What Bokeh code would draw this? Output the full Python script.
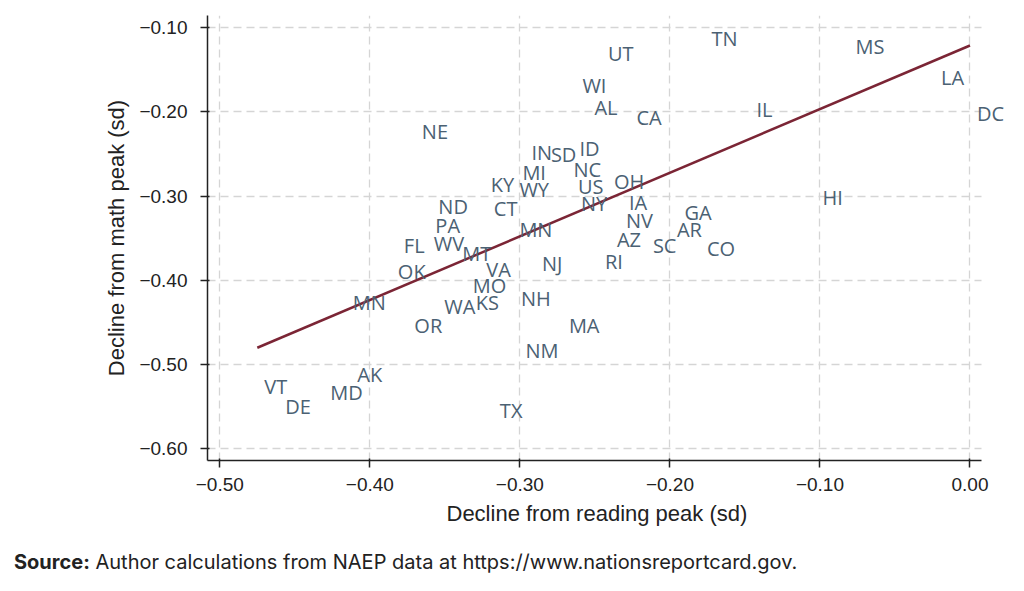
from bokeh.plotting import figure
from bokeh.models import ColumnDataSource, LabelSet, FixedTicker, Range1d, Div, Title
from bokeh.layouts import column
from bokeh.core.properties import value
from bokeh.embed import file_html
from bokeh.resources import INLINE

# ---- data ----
states = ["TN", "UT", "MS", "LA", "DC", "WI", "AL", "CA", "IL", "NE",
          "IN", "SD", "ID", "MI", "NC", "KY", "WY", "US", "NY", "OH",
          "ND", "CT", "PA", "MN", "IA", "NV", "GA", "AR", "AZ", "SC",
          "CO", "RI", "HI", "FL", "WV", "MT", "VA", "NJ", "OK", "MO",
          "NH", "MN", "WA", "KS", "OR", "MA", "NM", "AK", "VT", "MD",
          "DE", "TX"]
reading_decline = [-0.177, -0.246, -0.081, -0.024, 0.000, -0.263, -0.255, -0.227, -0.147, -0.370,
                   -0.297, -0.284, -0.265, -0.303, -0.269, -0.324, -0.305, -0.266, -0.264, -0.242,
                   -0.359, -0.322, -0.361, -0.305, -0.232, -0.234, -0.195, -0.200, -0.240, -0.216,
                   -0.180, -0.248, -0.103, -0.382, -0.362, -0.343, -0.327, -0.290, -0.386, -0.336,
                   -0.304, -0.416, -0.355, -0.334, -0.375, -0.272, -0.301, -0.413, -0.475, -0.431,
                   -0.461, -0.318]
math_decline = [-0.113, -0.131, -0.122, -0.159, -0.202, -0.169, -0.195, -0.207, -0.197, -0.223,
                -0.248, -0.251, -0.243, -0.272, -0.268, -0.286, -0.292, -0.289, -0.309, -0.282,
                -0.312, -0.315, -0.335, -0.340, -0.307, -0.329, -0.319, -0.339, -0.352, -0.359,
                -0.362, -0.378, -0.301, -0.359, -0.356, -0.368, -0.387, -0.380, -0.390, -0.406,
                -0.422, -0.426, -0.431, -0.426, -0.453, -0.453, -0.483, -0.512, -0.526, -0.533,
                -0.550, -0.555]
fit_x = [-0.475, 0.000]
fit_y = [-0.480, -0.121]

x_ticks = [-0.5, -0.4, -0.3, -0.2, -0.1, 0.0]
x_tick_labels = ["\u22120.50", "\u22120.40", "\u22120.30", "\u22120.20", "\u22120.10", "0.00"]
y_ticks = [-0.6, -0.5, -0.4, -0.3, -0.2, -0.1]
y_tick_labels = ["\u22120.60", "\u22120.50", "\u22120.40", "\u22120.30", "\u22120.20", "\u22120.10"]

x_title = "Decline from reading peak (sd)"
y_title = "Decline from math peak (sd)"
source_bold = "Source:"
source_text = "Author calculations from NAEP data at https://www.nationsreportcard.gov."

# ---- styles ----
LABEL_COLOR = "#4b6173"
FIT_COLOR = "#7b2535"
AXIS_FONT = "Liberation Sans"
TEXT_COLOR = "#222222"
X_AXIS_BOUNDS = (-0.5082, 0.008)

p = figure(width=1016, height=550, output_backend="svg", toolbar_location=None,
           x_range=Range1d(-0.5082, 0.031), y_range=Range1d(-0.6139, -0.0854),
           min_border_left=207, min_border_right=0, min_border_top=15, min_border_bottom=90)
p.outline_line_color = None
p.background_fill_color = "white"
p.border_fill_color = "white"

p.line(fit_x, fit_y, line_color=FIT_COLOR, line_width=2.5)

src = ColumnDataSource(dict(x=reading_decline, y=math_decline, s=states))
labels = LabelSet(x="x", y="y", text="s", source=src, x_offset=7,
                  text_align="left", text_baseline="middle",
                  text_font=value("Open Sans"), text_font_size=value("20px"),
                  text_color=LABEL_COLOR)
p.add_layout(labels)

for ax, ticks, tl in ((p.xaxis[0], x_ticks, x_tick_labels), (p.yaxis[0], y_ticks, y_tick_labels)):
    ax.ticker = FixedTicker(ticks=ticks, minor_ticks=[])
    ax.major_label_overrides = {t: l for t, l in zip(ticks, tl)}
    ax.axis_line_color = TEXT_COLOR
    ax.axis_line_width = 1.5
    ax.major_tick_line_color = TEXT_COLOR
    ax.major_tick_line_width = 1.5
    ax.major_tick_out = 7
    ax.major_tick_in = 2
    ax.minor_tick_line_color = None
    ax.major_label_text_font = AXIS_FONT
    ax.major_label_text_font_size = "19px"
    ax.major_label_text_color = TEXT_COLOR
    ax.axis_label_text_font = AXIS_FONT
    ax.axis_label_text_font_size = "22px"
    ax.axis_label_text_font_style = "normal"
    ax.axis_label_text_color = TEXT_COLOR

p.xaxis[0].bounds = X_AXIS_BOUNDS
p.xaxis[0].major_label_standoff = 10
p.yaxis[0].major_label_standoff = 13
p.yaxis[0].axis_label = y_title
p.yaxis[0].axis_label_standoff = 7
p.yaxis[0].major_label_orientation = "horizontal"

# x-axis title, left-aligned so that it is centred under the axis line (not the wider frame)
p.add_layout(Title(text=x_title, align="left", offset=239, standoff=10,
                   text_font=AXIS_FONT, text_font_size="22px", text_font_style="normal",
                   text_color=TEXT_COLOR), "below")

for g, ticks in ((p.xgrid[0], x_ticks), (p.ygrid[0], y_ticks)):
    g.ticker = FixedTicker(ticks=ticks, minor_ticks=[])
    g.grid_line_color = "#d5d5d5"
    g.grid_line_width = 1.3
    g.grid_line_dash = "8 5"
p.ygrid[0].cross_bounds = X_AXIS_BOUNDS

note = Div(text=f"<b>{source_bold}</b> {source_text}", width=1000, height=30,
           margin=(0, 0, 0, 14),
           styles={"font-family": "Inter", "font-size": "20px", "color": TEXT_COLOR,
                   "line-height": "24px"})

layout = column(p, note, spacing=0)
open("out.html", "w").write(file_html(layout, INLINE))
